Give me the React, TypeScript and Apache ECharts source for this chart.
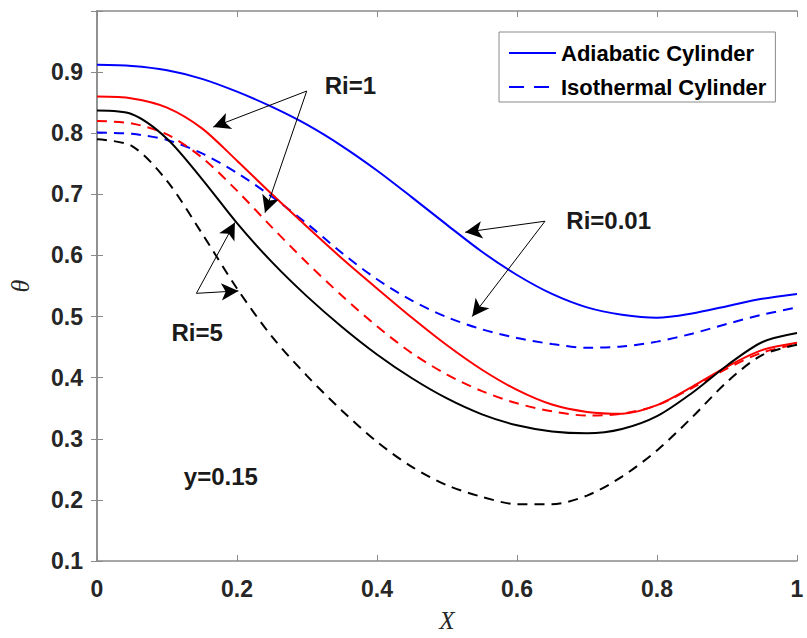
import React, { useEffect, useRef } from "react";
import * as echarts from "echarts";

// X positions shared by all curves
const xs = [0, 0.05, 0.1, 0.15, 0.2, 0.25, 0.3, 0.35, 0.4, 0.45, 0.5, 0.55, 0.6, 0.65, 0.7, 0.75, 0.8, 0.85, 0.9, 0.95, 1];

// Ri = 0.01 (blue)
const adiabaticRi001 = [0.912, 0.910, 0.903, 0.889, 0.868, 0.843, 0.814, 0.779, 0.739, 0.695, 0.650, 0.606, 0.568, 0.537, 0.515, 0.503, 0.498, 0.505, 0.517, 0.529, 0.537];
const isothermalRi001 = [0.801, 0.799, 0.789, 0.767, 0.735, 0.696, 0.652, 0.604, 0.561, 0.526, 0.499, 0.479, 0.465, 0.455, 0.449, 0.451, 0.459, 0.472, 0.488, 0.503, 0.515];
// Ri = 1 (red)
const adiabaticRi1 = [0.860, 0.857, 0.842, 0.808, 0.755, 0.700, 0.647, 0.595, 0.546, 0.498, 0.453, 0.413, 0.380, 0.356, 0.344, 0.341, 0.355, 0.385, 0.418, 0.445, 0.457];
const isothermalRi1 = [0.820, 0.816, 0.798, 0.760, 0.706, 0.646, 0.588, 0.534, 0.484, 0.440, 0.405, 0.378, 0.358, 0.345, 0.338, 0.341, 0.355, 0.383, 0.415, 0.441, 0.455];
// Ri = 5 (black)
const adiabaticRi5 = [0.837, 0.831, 0.791, 0.725, 0.653, 0.589, 0.533, 0.483, 0.438, 0.399, 0.366, 0.340, 0.322, 0.312, 0.309, 0.316, 0.337, 0.375, 0.420, 0.458, 0.473];
const isothermalRi5 = [0.790, 0.779, 0.722, 0.636, 0.546, 0.467, 0.403, 0.346, 0.295, 0.254, 0.224, 0.205, 0.193, 0.193, 0.207, 0.238, 0.281, 0.335, 0.393, 0.437, 0.454];

const legendNames = ["Adiabatic Cylinder", "Isothermal Cylinder"];

// annotation arrows: [fromX, fromY, toX, toY] in data units
const arrowLines = [
  [0.2996, 0.869, 0.166, 0.810],
  [0.2996, 0.869, 0.240, 0.670],
  [0.640, 0.656, 0.526, 0.638],
  [0.640, 0.656, 0.536, 0.500],
  [0.142, 0.538, 0.197, 0.654],
  [0.142, 0.538, 0.202, 0.542],
];
// annotation texts: [label, x, y] in data units
const annotations: [string, number, number][] = [
  ["Ri=1", 0.362, 0.878],
  ["Ri=0.01", 0.731, 0.657],
  ["Ri=5", 0.143, 0.474],
  ["y=0.15", 0.177, 0.238],
];

const FONT = "'Liberation Sans', Arial, Helvetica, sans-serif";
const SERIF = "'Liberation Serif', 'DejaVu Serif', serif";

export default function App() {
  const ref = useRef<HTMLDivElement>(null);
  useEffect(() => {
    if (!ref.current) return;
    const chart = echarts.init(ref.current, undefined, { renderer: "svg" });
    const mk = (name: string, vals: number[], color: string, dashed: boolean) => ({
      name,
      type: "line",
      data: xs.map((x, i) => [x, vals[i]]),
      showSymbol: false,
      symbol: "none",
      smooth: 0.3,
      silent: true,
      z: 3,
      lineStyle: { color, width: 2, type: dashed ? [10, 7] : "solid" },
      itemStyle: { color },
    });
    const axisLine = { show: true, lineStyle: { color: "#8a8a8a", width: 1.5 } };
    const tick = { show: true, inside: true, length: 6, lineStyle: { color: "#8a8a8a", width: 1 } };
    const option: any = {
      animation: false,
      grid: { left: 97, right: 10, top: 11, bottom: 77, containLabel: false, outerBoundsMode: "none" },
      legend: {
        data: [
          { name: legendNames[0] },
          { name: legendNames[1], lineStyle: { type: [15, 10] } },
        ],
        orient: "vertical",
        left: 499,
        top: 32,
        itemWidth: 47,
        itemHeight: 14,
        itemGap: 12,
        padding: [10, 9, 4, 9],
        borderColor: "#8a8a8a",
        borderWidth: 1,
        backgroundColor: "#ffffff",
        selectedMode: false,
        itemStyle: { opacity: 0 },
        textStyle: { fontFamily: FONT, fontWeight: "bold", fontSize: 22, lineHeight: 22, color: "#000" },
      },
      xAxis: [
        {
          type: "value",
          min: 0,
          max: 1,
          interval: 0.2,
          position: "bottom",
          name: "X",
          nameLocation: "middle",
          nameGap: 47,
          nameTextStyle: { fontFamily: SERIF, fontStyle: "italic", fontSize: 25, color: "#262626" },
          axisLine,
          axisTick: tick,
          splitLine: { show: false },
          axisLabel: {
            fontFamily: FONT,
            fontWeight: "bold",
            fontSize: 23,
            color: "#262626",
            margin: 16,
            formatter: (v: number) => (Math.abs(v) < 1e-9 ? "0" : Math.abs(v - 1) < 1e-9 ? "1" : v.toFixed(1)),
          },
        },
        {
          type: "value",
          min: 0,
          max: 1,
          interval: 0.2,
          position: "top",
          axisLine,
          axisTick: tick,
          axisLabel: { show: false },
          splitLine: { show: false },
        },
      ],
      yAxis: [
        {
          type: "value",
          min: 0.1,
          max: 1,
          interval: 0.1,
          position: "left",
          name: "θ",
          nameLocation: "middle",
          nameGap: 64,
          nameRotate: 90,
          nameTextStyle: { fontFamily: SERIF, fontStyle: "italic", fontSize: 26, color: "#262626" },
          axisLine,
          axisTick: tick,
          splitLine: { show: false },
          axisLabel: {
            fontFamily: FONT,
            fontWeight: "bold",
            fontSize: 23,
            color: "#262626",
            margin: 14,
            formatter: (v: number) => (v > 0.95 ? "" : v.toFixed(1)),
          },
        },
        {
          type: "value",
          min: 0.1,
          max: 1,
          interval: 0.1,
          position: "right",
          axisLine,
          axisTick: tick,
          axisLabel: { show: false },
          splitLine: { show: false },
        },
      ],
      series: [
        mk(legendNames[0], adiabaticRi001, "#0000ff", false),
        mk(legendNames[1], isothermalRi001, "#0000ff", true),
        mk("Adiabatic Ri=1", adiabaticRi1, "#ff0000", false),
        mk("Isothermal Ri=1", isothermalRi1, "#ff0000", true),
        mk("Adiabatic Ri=5", adiabaticRi5, "#000000", false),
        mk("Isothermal Ri=5", isothermalRi5, "#000000", true),
        {
          name: "annotations",
          type: "line",
          data: [],
          silent: true,
          z: 5,
          markLine: {
            silent: true,
            animation: false,
            symbol: ["none", "arrow"],
            symbolSize: [13, 17],
            label: { show: false },
            emphasis: { disabled: true },
            lineStyle: { color: "#000", width: 1, type: "solid" },
            data: arrowLines.map((a) => [{ coord: [a[0], a[1]] }, { coord: [a[2], a[3]] }]),
          },
          markPoint: {
            silent: true,
            animation: false,
            symbol: "circle",
            symbolSize: 1,
            itemStyle: { color: "rgba(0,0,0,0)" },
            label: {
              show: true,
              position: "inside",
              fontFamily: FONT,
              fontWeight: "bold",
              fontSize: 24,
              color: "#1a1a1a",
              formatter: (p: any) => p.name,
            },
            data: annotations.map((t) => ({ name: t[0], coord: [t[1], t[2]] })),
          },
        },
      ],
    };
    chart.setOption(option);
    return () => chart.dispose();
  }, []);
  return (
    <div
      ref={ref}
      style={{ position: "absolute", left: 0, top: 0, width: 807, height: 638, background: "#fff" }}
    />
  );
}
